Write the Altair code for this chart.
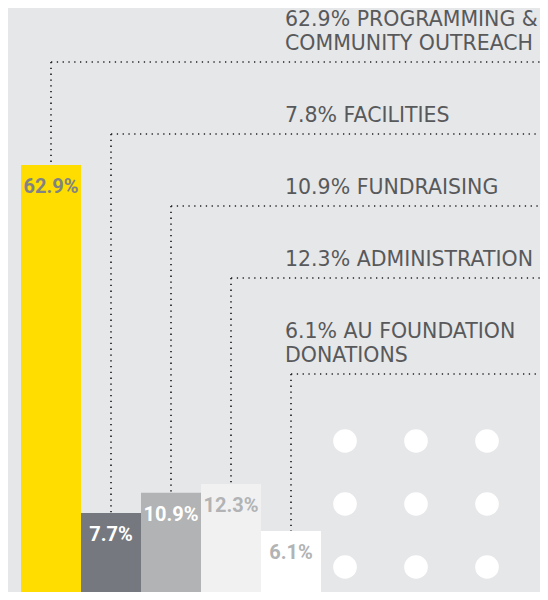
import altair as alt
import pandas as pd

# ---- data ----
categories = ["Programming & Community Outreach", "Facilities", "Fundraising",
              "Administration", "AU Foundation Donations"]
bar_values = [62.9, 7.7, 10.9, 12.3, 6.1]
bar_labels = ["62.9%", "7.7%", "10.9%", "12.3%", "6.1%"]
legend_labels = ["62.9% PROGRAMMING &\nCOMMUNITY OUTREACH", "7.8% FACILITIES",
                 "10.9% FUNDRAISING", "12.3% ADMINISTRATION",
                 "6.1% AU FOUNDATION\nDONATIONS"]
order = [0, 1, 2, 3, 4]

dot_cols = [0, 1, 2]
dot_rows = [0, 1, 2]

# ---- styles ----
bar_colors = ["#FFDD00", "#76787F", "#B1B3B4", "#F1F1F2", "#FFFFFF"]
value_label_colors = ["#808285", "#FFFFFF", "#FFFFFF", "#B1B3B4", "#B1B3B4"]
BG = "#E6E7E9"
W, H = 532, 584

df = pd.DataFrame({"cat": categories, "value": bar_values, "label": bar_labels,
                   "legend": legend_labels, "order": order})
dots = pd.DataFrame([{"c": c, "r": r} for r in dot_rows for c in dot_cols])

x_scale = alt.Scale(domain=categories, range=[13, 313], paddingInner=0, paddingOuter=0)
y_scale = alt.Scale(domain=[0, 7.7, 62.9], range=[592, 505, 157])

base = alt.Chart(df)

layout = base.transform_calculate(
    lines="length(split(datum.legend, '\\n'))",
    block="24 * datum.lines + 48",
).transform_window(
    cum="sum(block)", sort=[alt.SortField("order")], frame=[None, 0]
).transform_calculate(
    level="datum.cum - 42",
    ty="datum.cum - 42 - 12 - 24 * (datum.lines - 1)",
)

dash = dict(color="#222222", strokeWidth=1.7, strokeDash=[1.3, 4.5])

vrules = layout.mark_rule(**dash).encode(
    x=alt.X("cat:N", scale=x_scale, axis=None, bandPosition=0.5),
    y=alt.Y("level:Q", scale=None, axis=None),
    y2=alt.value({"expr": "height"}),
)
hrules = layout.mark_rule(**dash).encode(
    x=alt.X("cat:N", scale=x_scale, axis=None, bandPosition=0.5),
    x2=alt.value({"expr": "width"}),
    y=alt.Y("level:Q", scale=None, axis=None),
)

bars = base.mark_bar(opacity=1, stroke=None).encode(
    x=alt.X("cat:N", scale=x_scale, axis=None),
    y=alt.Y("value:Q", scale=y_scale, axis=None),
    color=alt.Color("cat:N", scale=alt.Scale(domain=categories, range=bar_colors), legend=None),
)

value_text = base.mark_text(font="Roboto", fontWeight="bold", fontSize=20,
                            baseline="alphabetic", align="center", dy=28).encode(
    x=alt.X("cat:N", scale=x_scale, axis=None, bandPosition=0.5),
    y=alt.Y("value:Q", scale=y_scale, axis=None),
    text="label:N",
    color=alt.Color("cat:N", scale=alt.Scale(domain=categories, range=value_label_colors), legend=None),
)

legend_text = layout.mark_text(font="DejaVu Sans", fontSize=20.5, lineHeight=24,
                               lineBreak="\n", align="left", baseline="alphabetic",
                               color="#58595B").encode(
    x=alt.value(277),
    y=alt.Y("ty:Q", scale=None, axis=None),
    text="legend:N",
)

dot_layer = alt.Chart(dots).mark_circle(size=560, color="#FFFFFF", opacity=1).encode(
    x=alt.X("c:O", scale=alt.Scale(domain=dot_cols, range=[337, 479], padding=0), axis=None),
    y=alt.Y("r:O", scale=alt.Scale(domain=dot_rows, range=[433, 559], padding=0), axis=None),
)

chart = alt.layer(vrules, hrules, bars, value_text, legend_text, dot_layer).resolve_scale(
    x="independent", y="independent", color="independent"
).properties(
    width=W, height=H, padding=0, autosize=alt.AutoSizeParams(type="none"),
    background=BG,
).configure_view(stroke=None)

chart.save("out.html", embed_options={"renderer": "svg", "actions": False})
